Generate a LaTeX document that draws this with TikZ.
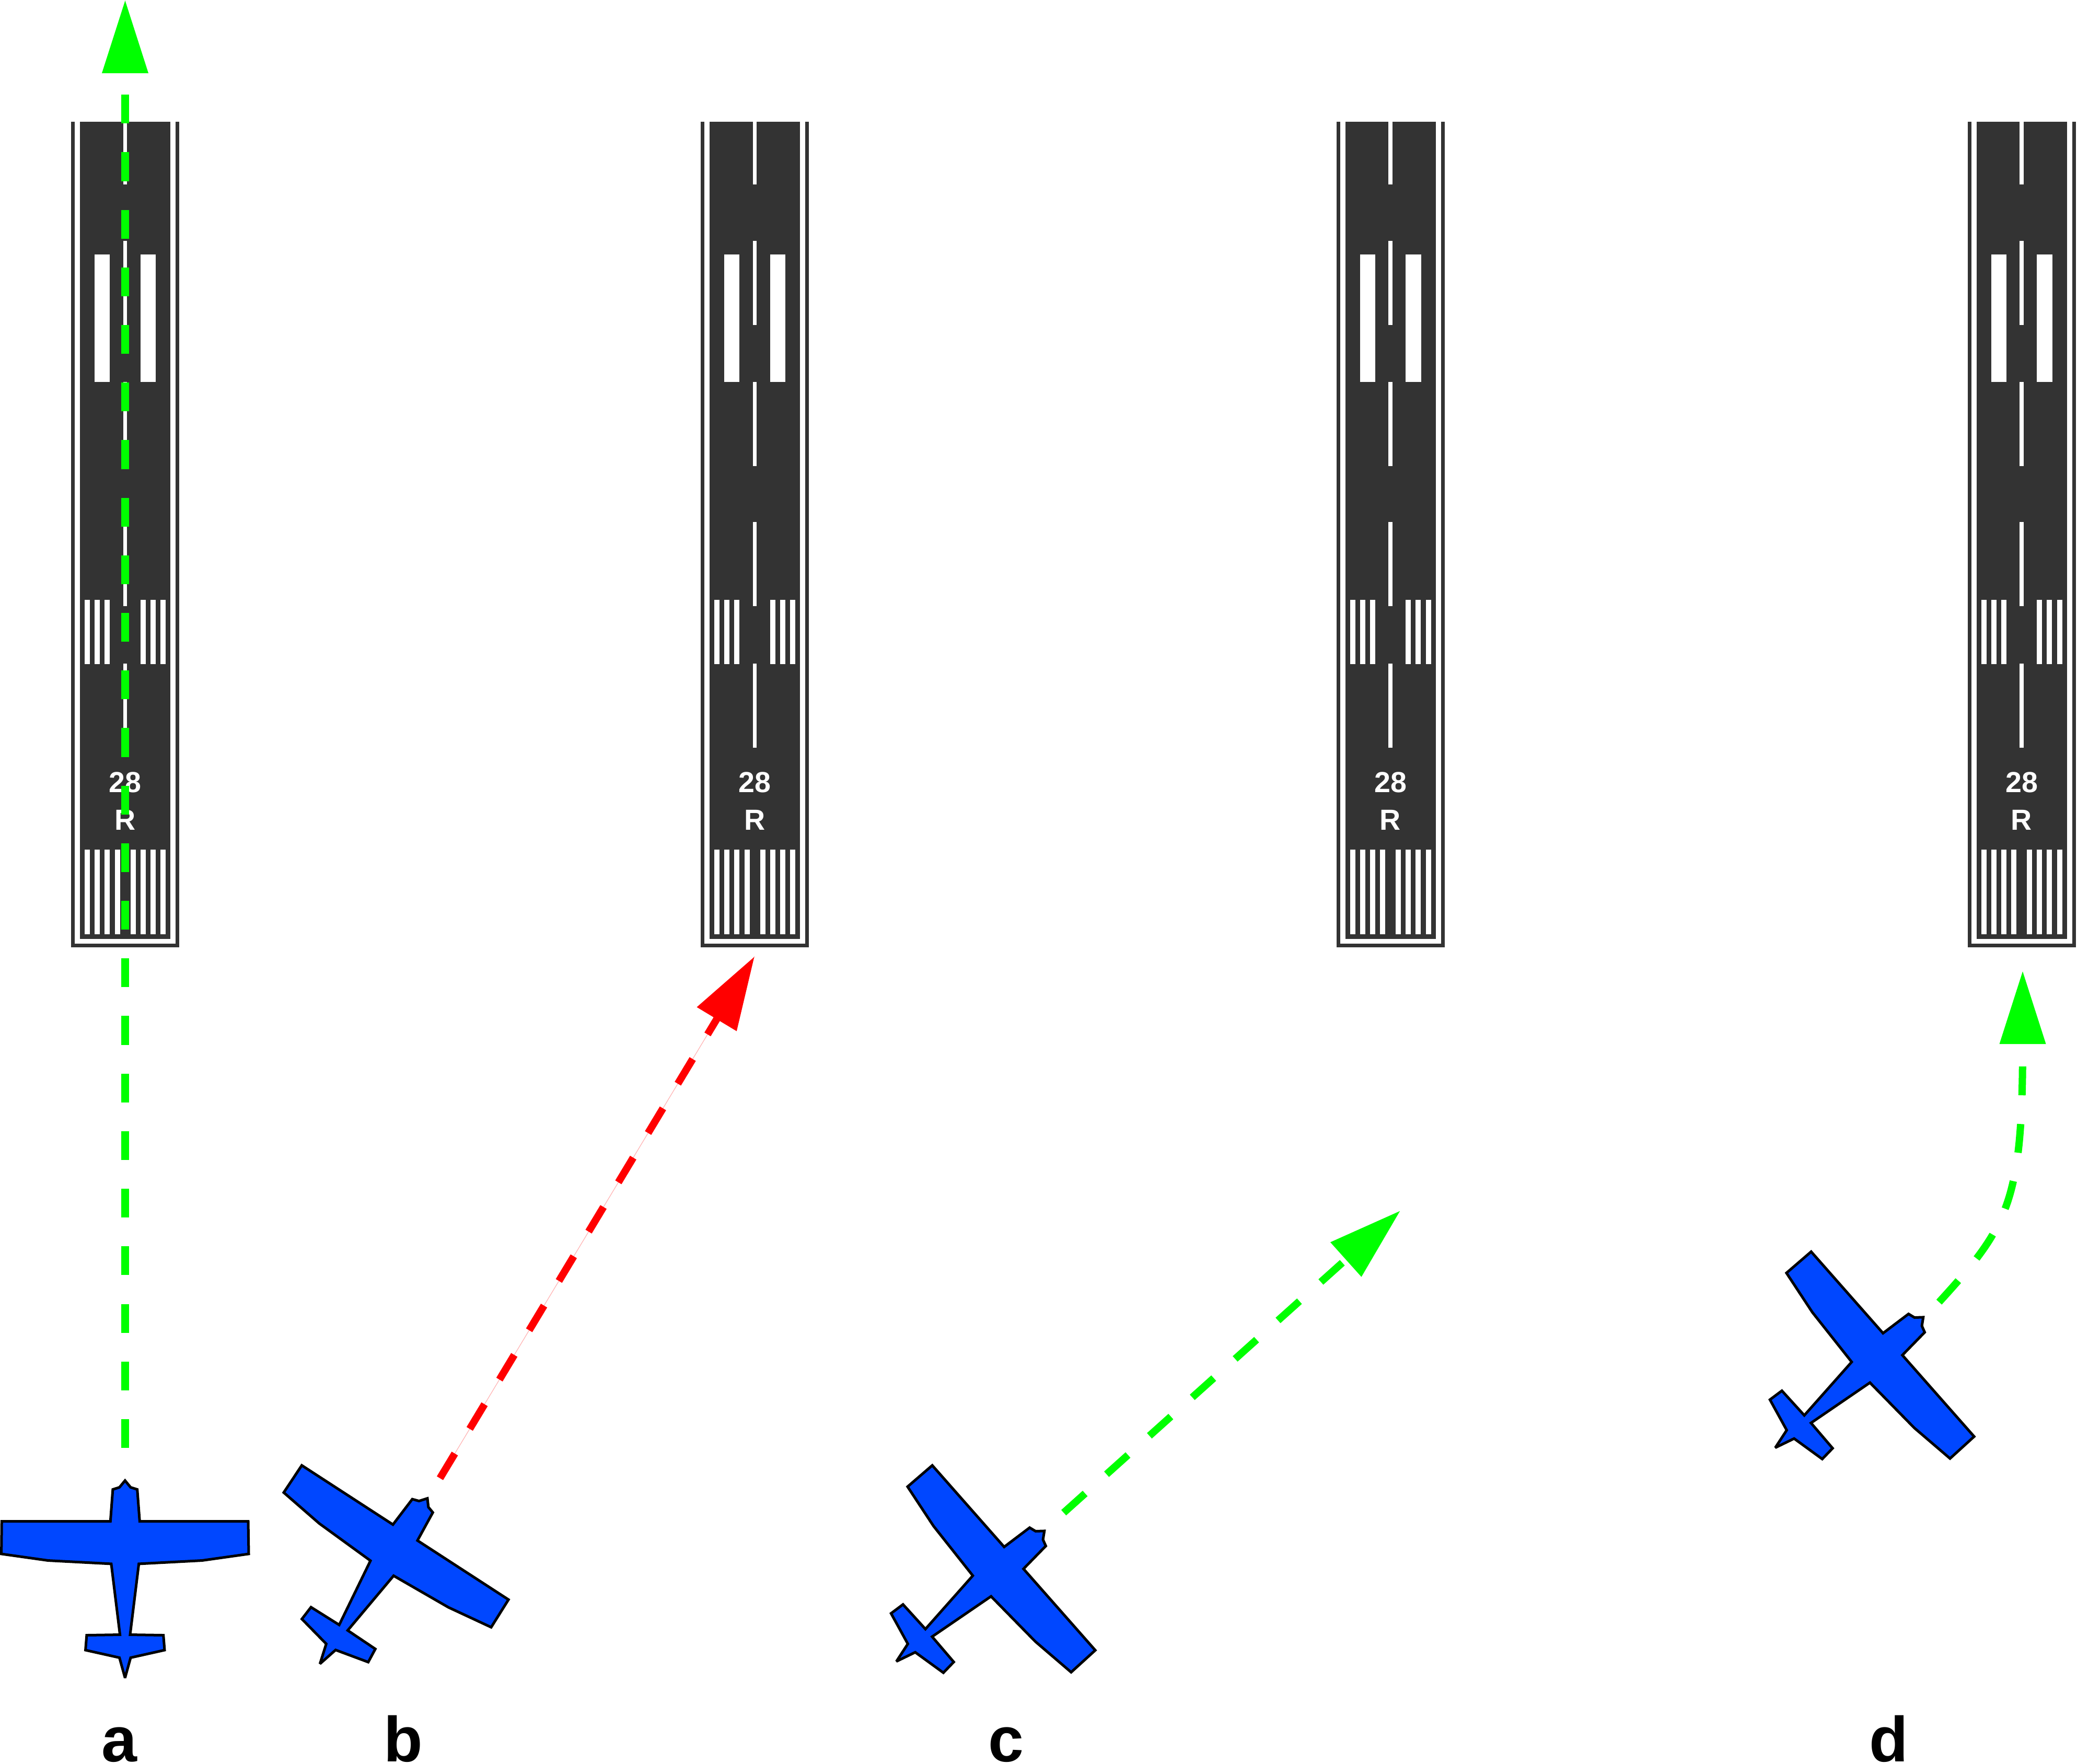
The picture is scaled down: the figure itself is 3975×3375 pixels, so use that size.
\documentclass[tikz,border=0pt]{standalone}
\usepackage{xcolor}
\usepackage{fontspec}
\setmainfont{Liberation Sans}
\usetikzlibrary{arrows.meta}
\definecolor{asphalt}{HTML}{333333}
\definecolor{planeblue}{HTML}{0047FF}
\definecolor{pathgreen}{HTML}{00FF00}
\definecolor{pathred}{HTML}{FF0000}
\tikzset{
  flightpath/.style={line width=0.14cm, dash pattern=on 0.5507cm off 0.5507cm,
    -{Triangle[length=1.4cm, width=0.85cm]}},
  hairline/.style={line width=0.012cm, pathred!30},
  runwaytext/.style={text=white, font=\bfseries\fontsize{15.8}{16}\selectfont, inner sep=0pt},
  letterlabel/.style={font=\bfseries\fontsize{34.7}{36}\selectfont, inner sep=0pt, anchor=base},
  plane/.pic={
    \filldraw[fill=planeblue, draw=black, line width=0.05cm, line join=miter, miter limit=3.5]
      (0,-109) -- (10.7,-96) -- (23.4,-92) -- (28,-31) -- (235.7,-31) -- (236.7,31.4)
      -- (147.4,44) -- (26.4,50.4) -- (9.7,186) -- (73.4,187) -- (75.7,215.5) -- (10.7,230)
      -- (0,268.6) -- (-10.7,230) -- (-75.7,215.5) -- (-73.4,187) -- (-9.7,186)
      -- (-26.4,50.4) -- (-147.4,44) -- (-236.7,31.4) -- (-236,-31) -- (-28,-31)
      -- (-23.4,-92) -- (-10.7,-96) -- cycle;
  },
  pics/runway/.style={code={
    \fill[asphalt] (-103.5,233) rectangle (103.5,1813);
    \fill[white] (-96.5,233) rectangle (-86.5,1806);
    \fill[white] (86.5,233) rectangle (96.5,1806);
    \fill[white] (-96.5,1796.5) rectangle (96.5,1806);
    % centre line
    \fill[white] (-3.6,233) rectangle (3.6,353);
    \foreach \ystart in {461,731,999,1270}
      \fill[white] (-3.6,\ystart) rectangle (3.6,\ystart+161);
    % aiming bars
    \fill[white] (-58.5,487) rectangle (-29.5,731);
    \fill[white] (29,487) rectangle (58.5,731);
    % touchdown and threshold stripes
    \foreach \xpos in {-77.5,-58.5,-39.5}
      \fill[white] (\xpos,1148) rectangle (\xpos+10,1270.5);
    \foreach \xpos in {29,48,67.5}
      \fill[white] (\xpos,1148) rectangle (\xpos+10,1270.5);
    \foreach \xpos in {-77.5,-58.5,-39.5,-20,10,29,48,67.5}
      \fill[white] (\xpos,1626) rectangle (\xpos+10,1788);
    \node[runwaytext] (-number) at (0,1497) {28};
    \node[runwaytext] (-side) at (0,1569) {R};
  }}
}

\begin{document}
\begin{tikzpicture}[x=0.01cm, y=-0.01cm]
    \useasboundingbox (0,0) rectangle (3975,3375);

    % runways
    \pic (runwaya) at (239.5,0) {runway};
    \pic (runwayb) at (1444.7,0) {runway};
    \pic (runwayc) at (2661,0) {runway};
    \pic (runwayd) at (3869,0) {runway};

    % aircraft
    \pic (planea) at (239.3,2942.5) {plane};
    \pic[rotate=-33] (planeb) at (758.6,2959) {plane};
    \pic[rotate=-48.6] (planec) at (1917,3002) {plane};
    \pic[rotate=-48.6] (planed) at (3599,2593) {plane};

    % path ends
    \coordinate (starta) at (239.5,2771);
    \coordinate (enda) at (239.5,0);
    \coordinate (startb) at (842,2829);
    \coordinate (endb) at (1444,1830.5);
    \coordinate (startc) at (2035.7,2895);
    \coordinate (endc) at (2680,2317);
    \coordinate (startd) at (3711,2492);
    \coordinate (endd) at (3871,1858);

    \draw[hairline] (startb) -- (endb);
    \draw[flightpath, pathgreen] (starta) -- (enda);
    \draw[flightpath, pathred] (startb) -- (endb);
    \draw[flightpath, pathgreen] (startc) -- (endc);
    \draw[flightpath, pathgreen] (startd) .. controls (3845,2345) and (3871,2300) .. (endd);

    % labels
    \node[letterlabel] (labela) at (228,3371) {a};
    \node[letterlabel] (labelb) at (772,3371) {b};
    \node[letterlabel] (labelc) at (1925,3371) {c};
    \node[letterlabel] (labeld) at (3615,3371) {d};
  \end{tikzpicture}
\end{document}
